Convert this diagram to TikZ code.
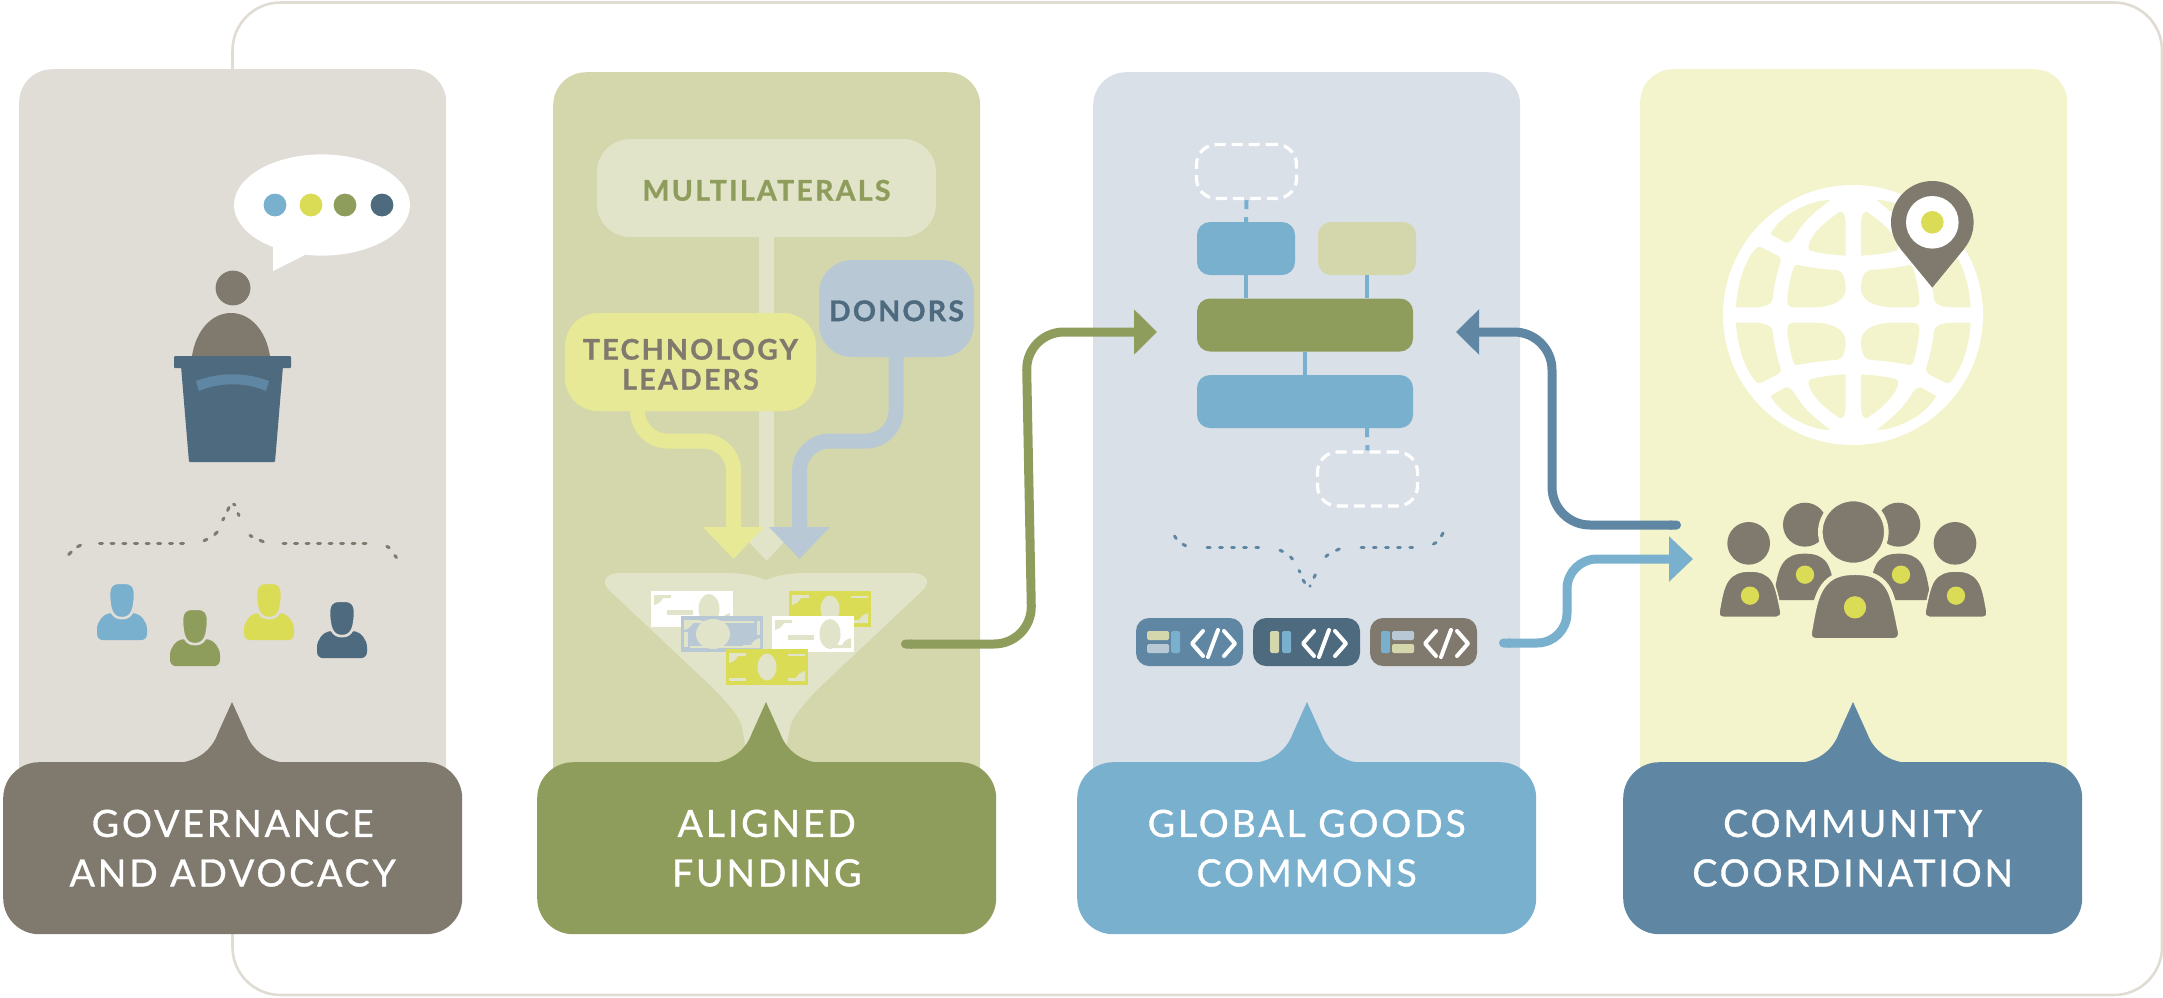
\documentclass[tikz,border=0pt]{standalone}
\usepackage{fontspec}
\usetikzlibrary{arrows.meta,calc}
\newfontfamily\lablfont[LetterSpace=7.5,FakeBold=0.9]{Lato}
\newfontfamily\innerfont[LetterSpace=8,FakeBold=1]{Lato Bold}
\newcommand{\dropline}{\rule{0pt}{25.5pt}}
\definecolor{stone}{HTML}{807A6E}
\definecolor{stonebg}{HTML}{E0DCD6}
\definecolor{olive}{HTML}{8F9D5C}
\definecolor{olivebg}{HTML}{D4D7AB}
\definecolor{sky}{HTML}{79B0CE}
\definecolor{skybg}{HTML}{DAE0E8}
\definecolor{steel}{HTML}{5F87A3}
\definecolor{creambg}{HTML}{F3F3CC}
\definecolor{navy}{HTML}{4E6A7E}
\definecolor{lime}{HTML}{DBDC55}
\definecolor{palelime}{HTML}{E8E996}
\definecolor{paleolive}{HTML}{E1E4C8}
\definecolor{paleblue}{HTML}{B8C9D5}
\definecolor{framec}{HTML}{E0DCD4}
\tikzset{
  panelbox/.style={minimum width=427pt,minimum height=760pt,rounded corners=33pt,inner sep=0pt,anchor=north west},
  labelbox/.style={minimum width=459pt,minimum height=172pt,rounded corners=36pt,inner sep=0pt,anchor=north west,text=white,align=center,font=\lablfont\fontsize{37.5}{49.5}\selectfont},
  fundbox/.style={inner sep=0pt,rounded corners=33pt,align=center,font=\innerfont\fontsize{28.5}{30}\selectfont},
  archbox/.style={inner sep=0pt,minimum height=53pt,rounded corners=13pt},
  ghostbox/.style={draw=white,line width=3.2pt,dash pattern=on 11pt off 6pt,inner sep=0pt,minimum width=100pt,minimum height=54pt,rounded corners=20pt},
  chipbox/.style={inner sep=0pt,minimum width=107pt,minimum height=48pt,rounded corners=13pt},
  link/.style={draw=sky,line width=4pt},
  dashlink/.style={draw=sky,line width=4pt,dash pattern=on 9pt off 8pt},
  flow/.style={line width=15pt},
  conn/.style={line width=9pt},
  bracket/.style={line width=3pt,line cap=round},
  codemark/.style={draw=white,line width=4pt,line cap=round,line join=round}
}
\newcommand{\pointer}[2]{\fill[#2] (#1-56,763) .. controls (#1-35,762) and (#1-20,750) .. (#1-14,733) -- (#1,702) -- (#1+14,733) .. controls (#1+20,750) and (#1+35,762) .. (#1+56,763) -- cycle;}
\newcommand{\personicon}[4]{\begin{scope}[shift={(#1,#2)},yscale=1.22]
  \fill[#3] (-13,24) .. controls (-19,25) and (-25,31) .. (-25,37) -- (-25,41) .. controls (-25,44) and (-22,46) .. (-19,46) -- (19,46) .. controls (22,46) and (25,44) .. (25,41) -- (25,37) .. controls (25,31) and (19,25) .. (13,24) -- cycle;
  \filldraw[fill=#3,draw=#4,line width=2.6pt] (-13,7) .. controls (-13,2) and (-9,-1) .. (-4,-1) -- (4,-1) .. controls (9,-1) and (13,2) .. (13,7) .. controls (13,21) and (10,28) .. (0,28) .. controls (-10,28) and (-13,21) .. (-13,7) -- cycle;
\end{scope}}
\newcommand{\billmarks}{%
  \fill[paleolive] (3,4) -- (20,4) -- (20,7) -- (12,7) .. controls (10,11) and (7,13) .. (3,14) -- cycle;
  \fill[paleolive] (79,32) -- (62,32) -- (62,29) -- (70,29) .. controls (72,25) and (75,23) .. (79,22) -- cycle;}
\newcommand{\limebill}[2]{\begin{scope}[shift={(#1,#2)}]
  \fill[lime] (0,0) rectangle (82,36); \billmarks
  \fill[paleolive] (41,18) ellipse[x radius=9.5pt,y radius=13.5pt];
  \fill[paleolive] (62,4.5) rectangle (79,7);
  \fill[paleolive] (3,29) rectangle (20,32);
\end{scope}}
\newcommand{\whitebill}[2]{\begin{scope}[shift={(#1,#2)}]
  \fill[white] (0,0) rectangle (82,36); \billmarks
  \fill[paleolive] (58,18) ellipse[x radius=10.5pt,y radius=15pt];
  \fill[paleolive] (16,19) rectangle (42,23.5);
\end{scope}}
\newcommand{\bluebill}[2]{\begin{scope}[shift={(#1,#2)}]
  \fill[paleblue] (0,0) rectangle (82,36); \billmarks
  \fill[paleolive] (32,18) ellipse[x radius=17pt,y radius=15pt];
  \fill[paleolive] (9,4.5) rectangle (73,7);
  \fill[paleolive] (9,29.5) rectangle (70,32);
  \fill[paleolive] (3,16) rectangle (6.5,31);
  \fill[paleolive] (76,5) rectangle (79,19);
\end{scope}}
\newcommand{\codeglyph}[1]{%
  \draw[codemark] (#1+11,631) -- (#1,643.5) -- (#1+11,656);
  \draw[codemark] (#1+26,630) -- (#1+16,657);
  \draw[codemark] (#1+32,631) -- (#1+43,643.5) -- (#1+32,656);}
\newcommand{\globehole}{\fill[creambg] (450,120) .. controls (390,120) and (300,165) .. (272,222) -- (315,247) .. controls (335,252) and (345,225) .. (360,205) .. controls (385,170) and (420,145) .. (450,120) -- cycle;
  \fill[creambg] (497,287) .. controls (460,285) and (420,280) .. (395,273) .. controls (380,270) and (385,255) .. (392,240) .. controls (410,205) and (450,175) .. (480,155) .. controls (495,155) and (497,175) .. (497,200) -- cycle;
  \fill[creambg] (168,442) .. controls (172,370) and (195,300) .. (228,265) .. controls (235,258) and (243,260) .. (250,265) -- (295,288) .. controls (303,293) and (303,300) .. (300,312) .. controls (290,340) and (282,380) .. (278,415) .. controls (275,440) and (240,442) .. (215,442) -- cycle;
  \fill[creambg] (352,315) .. controls (390,323) and (430,328) .. (470,330) .. controls (490,332) and (497,360) .. (497,385) .. controls (497,430) and (440,442) .. (400,442) -- (340,442) .. controls (325,442) and (320,430) .. (322,415) .. controls (325,385) and (332,350) .. (340,325) .. controls (342,317) and (347,314) .. (352,315) -- cycle;}
\newcommand{\bodyshape}{(-93,122) .. controls (-85,77) and (-80,47) .. (-65,27) .. controls (-50,7) and (-30,0) .. (0,0) .. controls (30,0) and (50,7) .. (65,27) .. controls (80,47) and (87,97) .. (93,122) .. controls (95,132) and (88,139) .. (80,139) -- (-80,139) .. controls (-90,139) and (-95,132) .. (-93,122) -- cycle}
\begin{document}
\begin{tikzpicture}[x=1pt,y=-1pt]
\useasboundingbox (0,0) rectangle (2163,997);
% outer frame
\draw[framec,line width=2.6pt,rounded corners=48pt] (232.5,2.5) rectangle (2162,995);
% panels
\node[panelbox,fill=stonebg] (p1) at (19,69) {};
\node[panelbox,fill=olivebg] (p2) at (553,72) {};
\node[panelbox,fill=skybg] (p3) at (1093,72) {};
\node[panelbox,fill=creambg] (p4) at (1640,69) {};

% ---- governance
\fill[white] (322,205) ellipse[x radius=88pt,y radius=50.6pt];
\fill[white] (273,240) -- (273,271) -- (305,255) -- cycle;
\foreach \cx/\cc in {275/sky,311/lime,345/olive,382/navy}
  \fill[\cc] (\cx,205) circle[radius=11.4pt];
\fill[stone] (233,288) circle[radius=17.4pt];
\fill[stone] (192,356) .. controls (196,330) and (212,313) .. (231,313) .. controls (250,313) and (266,330) .. (270,356) -- cycle;
\fill[navy,rounded corners=1pt] (174,356) rectangle (291,368);
\fill[navy,rounded corners=1pt] (181,366) -- (283,366) -- (275,462) -- (189,462) -- cycle;
\fill[steel] (196,381) .. controls (220,372) and (245,372) .. (269,381) -- (266,391) .. controls (245,382) and (220,382) .. (199,391) -- cycle;
\foreach \ax/\ay/\bx/\by in {68.8/554.5/71.3/552, 77.5/546.8/80.5/545.2, 204/540.7/207/539.3, 214.7/534.5/217.2/532, 222.7/520/224/518, 227.6/510.5/229/507.5, 233.5/504.2/235/505, 238/513.5/239/515.5, 250/535.4/252/536.6, 260/540.3/263.3/541.7, 386.8/546.4/389.2/547.6, 394.8/555.5/396.5/557.5}
  \draw[stone,bracket] (\ax,\ay) -- (\bx,\by);
\foreach \sx in {99.5,111,122.8,134.5,146.2,157.7,169.5,180.5, 283,294.5,306,317.5,329,340.5,352,363}
  \draw[stone,bracket] (\sx,543) -- ++(3,0);

\personicon{122}{584}{sky}{stonebg}
\personicon{195}{610}{olive}{stonebg}
\personicon{269}{584}{lime}{stonebg}
\personicon{342}{602}{navy}{stonebg}

% ---- funding
\node[fundbox,fill=paleolive,text=olive,minimum width=339pt,minimum height=98pt] (multi) at (766.5,188) {\dropline MULTILATERALS};
\coordinate (multitip) at (766.5,561);
\draw[flow,paleolive,-{Triangle[width=59pt,length=33pt]}] (multi.south) -- (multitip);
\fill[paleolive] (609,590) .. controls (600,581) and (607,573) .. (620,573) -- (725,573) .. controls (740,573) and (755,575) .. (766,580) .. controls (777,575) and (792,573) .. (807,573) -- (912,573) .. controls (925,573) and (932,581) .. (923,590) -- (820,687) .. controls (807,700) and (791,718) .. (790,727) -- (786,750) -- (746,750) -- (742,727) .. controls (741,718) and (725,700) .. (712,687) -- cycle;
\node[fundbox,fill=palelime,text=stone,minimum width=251pt,minimum height=98pt] (tech) at (690.5,362) {\dropline TECHNOLOGY\\LEADERS};
\node[fundbox,fill=paleblue,text=navy,minimum width=155pt,minimum height=97pt] (donors) at (896.5,308.5) {\dropline DONORS};
\coordinate (techdown) at (637.5,411);
\coordinate (techmid) at (637.5,441);
\coordinate (techbend) at (733.5,441);
\coordinate (techtip) at (733.5,559);
\draw[flow,palelime,rounded corners=30pt,-{Triangle[width=59pt,length=32pt]}] (techdown) -- (techmid) -- (techbend) -- (techtip);
\coordinate (donordown) at (896,357);
\coordinate (donormid) at (896,441);
\coordinate (donorbend) at (799.5,441);
\coordinate (donortip) at (799.5,559);
\draw[flow,paleblue,rounded corners=30pt,-{Triangle[width=59pt,length=32pt]}] (donordown) -- (donormid) -- (donorbend) -- (donortip);
\whitebill{651}{591}
\limebill{789}{591}
\bluebill{681}{616}
\whitebill{772}{616}
\limebill{726}{649}

% ---- commons
\node[ghostbox] (ghosta) at (1246.5,171.5) {};
\node[archbox,fill=sky,minimum width=98pt] (arcA) at (1246,248.5) {};
\node[archbox,fill=olivebg,minimum width=98pt] (arcB) at (1367,248.5) {};
\node[archbox,fill=olive,minimum width=216pt] (arcC) at (1305,325) {};
\node[archbox,fill=sky,minimum width=216pt] (arcD) at (1305,401.5) {};
\node[ghostbox] (ghostb) at (1367.5,479) {};
\draw[link] (arcA.south) -- (arcA.south |- arcC.north);
\draw[link] (arcB.south) -- (arcB.south |- arcC.north);
\draw[link] (arcC.south) -- (arcD.north);
\draw[dashlink] (ghosta.south) -- (arcA.north);
\draw[dashlink] (arcB.south |- arcD.south) -- (ghostb.north);
\foreach \ax/\ay/\bx/\by in {1174.5/536/1176.2/538.5, 1183/544.3/1185.6/545.7, 1280/550.3/1282.6/551.4, 1290.5/557/1292.5/559, 1299/570.5/1300/572, 1303/580/1304.7/582.6, 1309.8/586.2/1310.3/585.8, 1314/577.5/1315.3/574.8, 1325.7/556.6/1328/554.7, 1336.4/550.3/1339.3/549, 1433.4/544/1436/542.6, 1441.4/536/1443/533}
  \draw[steel,bracket] (\ax,\ay) -- (\bx,\by);
\foreach \sx in {1207.2,1219.5,1231.5,1243.5,1255.8, 1361.2,1373.3,1385.5,1397.5,1409.8}
  \draw[steel,bracket] (\sx,547) -- ++(2.8,0);
\node[chipbox,fill=steel] (chip1) at (1189.5,642) {};
\node[chipbox,fill=navy] (chip2) at (1306.5,642) {};
\node[chipbox,fill=stone] (chip3) at (1423.5,642) {};
\fill[olivebg,rounded corners=1.5pt] (1147,631) rectangle (1169,640);
\fill[paleblue,rounded corners=1.5pt] (1147,644) rectangle (1169,653);
\fill[sky,rounded corners=1.5pt] (1171,631) rectangle (1180,653);
\codeglyph{1192}
\fill[olivebg,rounded corners=1.5pt] (1270,631) rectangle (1279,653);
\fill[sky,rounded corners=1.5pt] (1282,631) rectangle (1291,653);
\codeglyph{1303}
\fill[sky,rounded corners=1.5pt] (1381,631) rectangle (1390,653);
\fill[paleblue,rounded corners=1.5pt] (1392,631) rectangle (1414,640);
\fill[olivebg,rounded corners=1.5pt] (1392,644) rectangle (1414,653);
\codeglyph{1425}

% ---- community
\fill[white] (1853,315) circle[radius=130pt];
\begin{scope}[shift={(1680,160)},scale=0.3333]
  \globehole
  \begin{scope}[shift={(1040,0)},xscale=-1] \globehole \end{scope}
  \begin{scope}[shift={(0,930)},yscale=-1] \globehole \end{scope}
  \begin{scope}[shift={(1040,930)},xscale=-1,yscale=-1] \globehole \end{scope}
\end{scope}
\coordinate (pincentre) at (1932.3,222.3);
\fill[stone] (pincentre) circle[radius=41.3pt];
\fill[stone] (1932.3,287.6) -- (1900.6,249) -- (1964,249) -- cycle;
\fill[white] (pincentre) circle[radius=26.3pt];
\fill[lime] (pincentre) circle[radius=11.3pt];
\begin{scope}[shift={(1680,490)},scale=0.3333]
  \fill[stone] (375,104) circle[radius=66];
  \fill[stone] (655,104) circle[radius=66];
  \begin{scope}[shift={(375,191)}] \fill[stone] \bodyshape; \end{scope}
  \begin{scope}[shift={(657,191)},xscale=-1] \fill[stone] \bodyshape; \end{scope}
  \fill[stone] (206,160) circle[radius=64];
  \fill[stone] (825,160) circle[radius=64];
  \begin{scope}[shift={(210,243)}] \filldraw[fill=stone,draw=creambg,line width=1.6pt] \bodyshape; \end{scope}
  \begin{scope}[shift={(828,243)},xscale=-1] \filldraw[fill=stone,draw=creambg,line width=1.6pt] \bodyshape; \end{scope}
  \filldraw[fill=stone,draw=creambg,line width=4.6pt] (520,126) circle[radius=99];
  \begin{scope}[shift={(525,248)},scale=1.46] \filldraw[fill=stone,draw=creambg,line width=4.6pt] \bodyshape; \end{scope}
  \foreach \dx/\dy in {210/317,375/254,663/254,828/317}
    \fill[lime] (\dx,\dy) circle[radius=27.5];
  \fill[lime] (525,352) circle[radius=33.5];
\end{scope}

% ---- connectors between panels
\coordinate (gstart) at (901,644);
\coordinate (gb1) at (1032,644);
\coordinate (gb2) at (1026,332);
\coordinate (gtip) at (1157,332);
\draw[conn,olive,rounded corners=38pt,{Round Cap[]}-{Triangle[width=44pt,length=23pt]}] (gstart) -- (gb1) -- (gb2) -- (gtip);
\coordinate (bstart) at (1681,525);
\coordinate (bb1) at (1552,525);
\coordinate (bb2) at (1552,332);
\coordinate (btip) at (1456,332);
\draw[conn,steel,rounded corners=38pt,{Round Cap[]}-{Triangle[width=44pt,length=23pt]}] (bstart) -- (bb1) -- (bb2) -- (btip);
\coordinate (sstart) at (1499,643);
\coordinate (sb1) at (1567,643);
\coordinate (sb2) at (1567,559);
\coordinate (stip) at (1693,559);
\draw[conn,sky,rounded corners=30pt,{Round Cap[]}-{Triangle[width=44pt,length=24pt]}] (sstart) -- (sb1) -- (sb2) -- (stip);

% ---- titles
\pointer{232}{stone}
\pointer{766}{olive}
\pointer{1307}{sky}
\pointer{1853}{steel}
\node[labelbox,fill=stone] (t1) at (3,762) {GOVERNANCE\\AND ADVOCACY};
\node[labelbox,fill=olive] (t2) at (537,762) {ALIGNED\\FUNDING};
\node[labelbox,fill=sky] (t3) at (1077,762) {GLOBAL GOODS\\COMMONS};
\node[labelbox,fill=steel] (t4) at (1623,762) {COMMUNITY\\COORDINATION};
\end{tikzpicture}
\end{document}
